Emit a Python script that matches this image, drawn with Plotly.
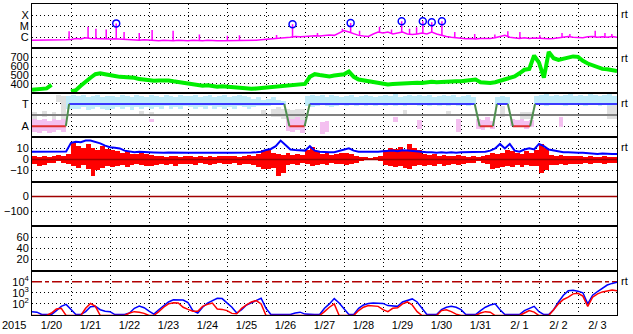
import pandas as pd
import plotly.graph_objects as go
from plotly.subplots import make_subplots

# ------------------------------------------------------------------ data
START = pd.Timestamp("2015-01-20 00:00")
END = pd.Timestamp("2015-02-04 00:00")
STEP = pd.Timedelta(hours=3)

# GOES X-ray background, units of 1e-6 W/m2 (C1 = 1), 3-hourly, one row per day
xray_bg = [
    [0.55, 0.55, 0.6, 0.55, 0.6, 0.6, 0.55, 0.6],
    [0.65, 0.8, 0.7, 0.9, 0.8, 0.75, 0.8, 0.7],
    [0.7, 0.75, 0.7, 0.6, 0.65, 0.6, 0.55, 0.6],
    [0.55, 0.5, 0.5, 0.55, 0.5, 0.5, 0.55, 0.5],
    [0.5, 0.55, 0.5, 0.5, 0.55, 0.5, 0.5, 0.5],
    [0.5, 0.5, 0.55, 0.5, 0.5, 0.5, 0.55, 0.6],
    [0.65, 0.7, 0.8, 0.8, 0.9, 1.0, 1.2, 1.1],
    [1.2, 1.3, 1.4, 1.3, 1.5, 1.6, 1.5, 2.5],
    [4, 3, 2, 1.5, 1.3, 1.2, 2, 3],
    [2.5, 3, 2, 2.5, 3, 2, 1.8, 2],
    [2.5, 2, 3, 2, 1.5, 1.2, 1.0, 0.9],
    [0.8, 0.75, 0.8, 0.7, 0.8, 0.75, 0.8, 0.9],
    [1.2, 1.5, 1.0, 0.9, 0.8, 0.9, 0.8, 0.85],
    [0.8, 0.8, 0.75, 0.8, 0.9, 1.0, 1.2, 1.0],
    [1.0, 0.9, 1.1, 1.2, 1.0, 1.1, 1.0, 1.2],
    [1.0],
]
# X-ray flare / burst peaks (same units)
flare_times = [
    "2015-01-20 22:50", "2015-01-21 10:30", "2015-01-21 15:20", "2015-01-21 21:40",
    "2015-01-22 03:50", "2015-01-22 08:40", "2015-01-22 18:00", "2015-01-23 01:55",
    "2015-01-23 14:50", "2015-01-24 07:00", "2015-01-25 00:15", "2015-01-25 07:40",
    "2015-01-26 06:30", "2015-01-26 16:20", "2015-01-27 07:40", "2015-01-27 23:00",
    "2015-01-28 04:05", "2015-01-28 09:35", "2015-01-28 21:50", "2015-01-29 05:15",
    "2015-01-29 11:30", "2015-01-29 16:20", "2015-01-29 20:40", "2015-01-30 00:30",
    "2015-01-30 06:00", "2015-01-30 12:15", "2015-01-30 20:10", "2015-01-31 08:25",
    "2015-01-31 20:50", "2015-02-01 04:50", "2015-02-01 12:15", "2015-02-02 00:30",
    "2015-02-02 14:10", "2015-02-02 19:00", "2015-02-03 10:35", "2015-02-03 16:35",
    "2015-02-03 20:50",
]
flare_peaks = [3.5, 9, 6, 5, 18, 3, 2.5, 4.5, 4, 1.8, 1.4, 1.5, 1.6, 15, 2.5, 6,
               19, 4, 9, 5, 28, 6, 8, 28, 23, 28, 3, 2, 1.8, 3.5, 3, 1.5, 2.5, 2,
               4, 2.5, 2]

# Solar wind speed km/s, 3-hourly
wind_speed = [
    [335, 340, 345, 350, 390, None, None, None],
    [315, 330, 380, 430, 470, 510, 520, 510],
    [505, 490, 480, 475, 480, 470, 455, 445],
    [440, 435, 440, 445, 440, 430, 420, 415],
    [410, 395, 385, 380, 385, 375, 370, 375],
    [370, 360, 355, 350, 355, 345, 350, 355],
    [360, 365, 375, 380, 375, 380, 385, 390],
    [400, 480, 510, 500, 490, 485, 495, 500],
    [510, 540, 480, 450, 440, 430, 420, 410],
    [400, 395, 400, 405, 400, 405, 410, 415],
    [410, 420, 425, 420, 425, 430, 425, 430],
    [430, 435, 445, 450, 420, 410, 410, 420],
    [435, 455, 470, 485, 520, 560, 570, 720],
    [640, 470, 760, 690, 670, 680, 700, 710],
    [705, 660, 630, 610, 580, 570, 565, 555],
    [545],
]

# IMF sector (T = +1, A = -1)
sector_times = ["2015-01-20 00:00", "2015-01-20 20:50", "2015-01-20 22:50",
                "2015-01-26 11:15", "2015-01-26 14:25", "2015-01-26 23:45",
                "2015-01-27 02:55", "2015-01-31 08:25", "2015-01-31 11:30",
                "2015-01-31 19:40", "2015-01-31 22:05", "2015-02-01 04:50",
                "2015-02-01 07:55", "2015-02-01 18:30", "2015-02-01 21:35",
                "2015-02-04 00:00"]
sector_vals = [-1, -1, 1, 1, -1, -1, 1, 1, -1, -1, 1, 1, -1, -1, 1, 1]

# IMF longitude spread per 3-h bin (hi, lo) - toward (cyan)
N = None
toward_band = [
    [N, N, N, N, N, N, N, (1.7, 0.6)],
    [(1.8, 0.6), (1.7, 0.6), (1.8, 0.7), (1.6, 0.5), (1.7, 0.6), (1.8, 0.7), (1.6, 0.6), (1.7, 0.5)],
    [(1.7, 0.6), (1.6, 0.7), (1.8, 0.6), (1.7, 0.7), (1.6, 0.5), (1.8, 0.7), (1.7, 0.6), (1.6, 0.7)],
    [(1.8, 0.6), (1.7, 0.7), (1.6, 0.6), (1.8, 0.8), (1.7, 0.6), (1.6, 0.7), (1.8, 0.6), (1.7, 0.8)],
    [(1.7, 0.7), (1.8, 0.6), (1.6, 0.7), (1.7, 0.6), (1.8, 0.8), (1.6, 0.6), (1.7, 0.7), (1.8, 0.6)],
    [(1.6, 0.7), (1.7, 0.6), (1.8, 0.8), (1.7, 0.7), (1.6, 0.6), (1.5, 0.7), (1.6, 0.8), (1.4, 0.8)],
    [(1.5, 0.8), (1.6, 0.9), (1.4, 0.9), (1.3, 0.9), N, N, N, N],
    [(1.7, 0.8), (1.8, 0.7), (1.7, 0.8), (1.8, 0.9), (1.6, 0.8), (1.8, 0.7), (1.7, 0.8), (1.6, 0.9)],
    [(1.7, 0.8), (1.8, 0.9), (1.6, 0.8), (1.7, 0.9), (1.8, 0.8), (1.7, 0.9), (1.6, 0.8), (1.7, 0.9)],
    [(1.8, 0.8), (1.7, 0.9), (1.9, 0.8), (1.6, 0.9), (1.7, 0.8), (1.8, 0.9), (1.7, 1.0), (1.8, 0.8)],
    [(1.7, 0.9), (1.8, 0.8), (1.6, 0.9), (1.7, 0.8), (1.8, 0.9), (1.7, 0.8), (1.8, 0.9), (1.6, 0.8)],
    [(1.7, 0.9), (1.8, 0.8), (1.6, 0.9), N, N, N, N, (1.6, 0.9)],
    [(1.7, 0.9), (1.6, 1.0), N, N, N, N, N, (1.7, 0.9)],
    [(1.8, 0.9), (1.9, 0.8), (1.7, 0.9), (1.8, 0.9), (1.7, 1.0), (1.8, 0.8), (1.9, 0.9), (1.7, 0.9)],
    [(1.8, 0.9), (1.7, 0.8), (1.9, 0.9), (1.8, 0.9), (1.7, 0.8), (1.8, 0.9), (1.9, 0.8), (1.7, 0.9)],
]
# away (pink): bin index -> (hi, lo)
away_bins = [0, 1, 2, 3, 4, 5, 6, 24, 52, 53, 54, 55, 59, 60, 74, 79, 87,
             91, 92, 93, 94, 98, 99, 100, 101, 102, 108]
away_hi = [-0.3, -0.4, -0.3, -0.5, -0.3, -0.4, -0.3, -0.3, -0.2, -0.3, -0.2, -0.4,
           -0.6, -0.5, -0.2, -0.4, -0.3, -0.3, -0.4, -0.2, -0.5, -0.3, -0.4, -0.3,
           -0.5, -0.4, -0.2]
away_lo = [-1.5, -1.6, -1.4, -1.6, -1.5, -1.3, -1.5, -0.6, -1.4, -1.5, -1.3, -1.6,
           -1.7, -1.5, -0.6, -1.2, -1.5, -1.2, -1.3, -1.1, -1.2, -1.0, -1.1, -1.0,
           -1.2, -1.1, -1.1]
# undetermined (gray)
other_bins = [0, 2, 4, 5, 6, 22, 24, 47, 49, 50, 51, 52, 53, 54, 55,
              76, 85, 96, 100, 101, 102, 118, 119]
other_hi = [0.3, 0.4, 0.3, 1.8, 1.7, 0.4, 0.3, 0.5, 0.6, 0.7, 0.6,
            0.6, 0.5, 0.6, 0.6, 0.5, 0.4, 0.8, 0.3, 0.3, 0.3, 1.5, 1.5]
other_lo = [-0.3, -0.2, -0.4, 1.2, -0.4, 0.0, -0.1, 0.0, -0.2, -0.2, -0.3,
            -0.4, -0.3, -0.4, -0.4, 0.0, 0.0, -0.2, -0.3, -0.3, -0.3, -0.3, -0.3]

# IMF |B| (nT), 3-hourly
imf_bt = [
    [7, 7, 6.8, 7, 7, 6.8, 7, 7.2],
    [15, 16, 15.5, 17, 17, 16, 14.5, 12.5],
    [11, 10.5, 10, 8, 7, 6.5, 7, 6.5],
    [6.5, 6.3, 6, 6, 6.2, 6, 6, 6],
    [6, 6, 5.8, 6, 6, 6, 5.8, 6],
    [6, 6, 6, 5.8, 6, 6.2, 6.5, 7],
    [8.5, 9.5, 12, 17, 13, 9, 8.5, 8.5],
    [8, 12, 8, 7, 6.5, 6.5, 6.5, 7.5],
    [9, 10, 8, 7, 7, 6.8, 7, 7],
    [7.5, 8, 8, 7.5, 8.4, 8, 7.5, 7],
    [6.5, 6.5, 6.5, 6, 6.5, 6, 6.5, 6],
    [6.5, 6.5, 7, 7, 6.5, 7, 8, 10],
    [14, 10, 14, 8, 7, 9, 10, 9],
    [14, 12, 9, 8, 7, 6.5, 6.5, 6],
    [6, 6, 5.5, 5.5, 5, 5.5, 5, 5],
    [5],
]
# IMF Bz range per 3-h bin (max, min), nT
imf_bz = [
    [(3, -4), (2, -6), (3, -5), (2, -3), (3, -3), (4, -2), (3, -3), (5, -4)],
    [(15, -6), (12, -8), (10, -5), (14, -9), (10, -15), (8, -10), (12, -8), (9, -6)],
    [(8, -7), (7, -6), (6, -5), (7, -7), (5, -5), (5, -4), (6, -5), (5, -6)],
    [(4, -6), (3, -5), (3, -4), (2, -5), (3, -4), (3, -6), (2, -4), (3, -4)],
    [(3, -4), (2, -5), (3, -3), (2, -4), (3, -5), (2, -4), (3, -3), (3, -4)],
    [(3, -4), (3, -3), (2, -5), (3, -4), (4, -4), (3, -5), (5, -7), (8, -9)],
    [(8, -9), (6, -8), (5, -15), (4, -12), (6, -5), (4, -4), (5, -5), (4, -3)],
    [(8, -4), (11, -6), (7, -5), (5, -4), (6, -5), (4, -3), (5, -4), (6, -4)],
    [(6, -5), (5, -4), (3, -3), (2, -2), (2, 0), (1.5, -0.5), (2, -1), (3, -2)],
    [(8, -5), (10, -6), (9, -7), (11, -6), (8, -8), (14, -9), (10, -6), (8, -5)],
    [(5, -6), (4, -5), (5, -6), (3, -4), (4, -6), (3, -5), (3, -4), (4, -5)],
    [(3, -4), (2, -3), (3, -3), (2, -2), (3, -3), (4, -4), (6, -9), (5, -8)],
    [(6, -7), (8, -6), (7, -7), (6, -5), (5, -7), (7, -5), (6, -6), (8, -6)],
    [(14, -12), (10, -10), (4, -5), (3, -5), (4, -4), (3, -5), (3, -4), (3, -4)],
    [(3, -4), (2, -3), (3, -4), (2, -3), (2, -3), (3, -4), (2, -3), (2, -3)],
]

# GOES >2 MeV electron flux, two satellites, 3-hourly (values < 10 are off scale)
elec_a = [
    [20, 18, 11, 11, 11, 25, 60, 90],
    [30, 11, 11, 20, 55, 60, 30, 22],
    [20, 11, 11, 11, 15, 40, 65, 45],
    [22, 12, 30, 70, 150, 230, 230, 220],
    [130, 25, 15, 50, 120, 200, 320, 300],
    [130, 50, 15, 30, 80, 130, 220, 320],
    [40, 11, 11, 11, 11, 11, 15, 18],
    [12, 11, 11, 11, 40, 100, 300, 120],
    [40, 11, 11, 40, 80, 110, 120, 120],
    [110, 70, 60, 60, 150, 220, 280, 150],
    [40, 11, 11, 11, 30, 50, 60, 50],
    [30, 11, 11, 11, 25, 50, 80, 100],
    [30, 11, 11, 11, 11, 25, 40, 60],
    [20, 11, 11, 30, 150, 600, 1500, 1700],
    [1400, 1000, 100, 600, 1300, 2500, 5000, 7000],
    [9000],
]
elec_b = [
    [9, 9, 9, 9, 15, 35, 40, 9],
    [9, 9, 9, 40, 110, 60, 9, 9],
    [9, 9, 9, 9, 15, 20, 18, 14],
    [9, 9, 20, 50, 100, 125, 120, 50],
    [32, 22, 22, 60, 90, 120, 35, 32],
    [25, 14, 13, 40, 80, 150, 200, 100],
    [9, 9, 9, 9, 9, 9, 9, 9],
    [9, 9, 9, 9, 20, 50, 100, 9],
    [9, 9, 9, 25, 50, 70, 70, 60],
    [30, 20, 40, 45, 100, 150, 80, 20],
    [9, 9, 9, 9, 25, 30, 20, 12],
    [9, 9, 9, 9, 15, 20, 18, 9],
    [9, 9, 9, 9, 9, 15, 25, 18],
    [9, 9, 9, 30, 100, 250, 400, 800],
    [900, 500, 60, 400, 800, 1200, 1500, 1800],
    [1500],
]

# reference levels
M_CLASS = 10        # M1 in C units
SECTOR_MID = 0
BZ_ZERO = 0
DST_ZERO = 0
E_ALERT = 1e4

# tick labels
xray_ticks, xray_text = [100, 10, 1], ["X", "M", "C"]
sw_ticks = [700, 600, 500, 400]
sector_ticks, sector_text = [1, -1], ["T", "A"]
bz_ticks = [10, 0, -10]
dst_ticks = [0, -100]
kp_ticks = [60, 40, 20]
el_ticks = [1e4, 1e3, 1e2]
el_text = ["10<sup>4</sup>", "10<sup>3</sup>", "10<sup>2</sup>"]


# ------------------------------------------------------------------ helpers
def flat(rows):
    return [v for r in rows for v in r]


def times(n):
    return [START + STEP * i for i in range(n)]


def centers(n):
    return [START + STEP * (i + 0.5) for i in range(n)]


BAR_W = STEP.total_seconds() * 1000

fig = make_subplots(rows=7, cols=1, shared_xaxes=True, vertical_spacing=0)

# ---- panel 1: X-ray
xb = flat(xray_bg)
tx = times(len(xb))
fig.add_trace(go.Scatter(x=tx, y=xb, mode="lines",
                         line=dict(color="#ff00ff", width=1.5)), row=1, col=1)
sx, sy = [], []
for t, p in zip(flare_times, flare_peaks):
    t = pd.Timestamp(t)
    idx = int(round((t - START) / STEP))
    sx += [t, t, None]
    sy += [xb[idx], p, None]
fig.add_trace(go.Scatter(x=sx, y=sy, mode="lines",
                         line=dict(color="#ff00ff", width=1.5)), row=1, col=1)
mx = [t for t, p in zip(flare_times, flare_peaks) if p >= M_CLASS]
my = [p for p in flare_peaks if p >= M_CLASS]
fig.add_trace(go.Scatter(x=mx, y=my, mode="markers",
                         marker=dict(symbol="circle-open", size=7, color="#0000ff",
                                     line=dict(width=1.5))), row=1, col=1)

# ---- panel 2: solar wind speed
vs = flat(wind_speed)
fig.add_trace(go.Scatter(x=times(len(vs)), y=vs, mode="lines",
                         line=dict(color="#00ee00", width=4)), row=2, col=1)

# ---- panel 3: sector
nb = len(toward_band) * 8
cx = centers(nb)
tb = flat(toward_band)
fig.add_trace(go.Bar(x=[cx[i] for i in other_bins],
                     y=[h - l for h, l in zip(other_hi, other_lo)], base=other_lo,
                     width=BAR_W, marker=dict(color="#e0e0e0", line=dict(width=0))),
              row=3, col=1)
fig.add_trace(go.Bar(x=[cx[i] for i in away_bins],
                     y=[h - l for h, l in zip(away_hi, away_lo)], base=away_lo,
                     width=BAR_W, marker=dict(color="#f4c0f0", line=dict(width=0))),
              row=3, col=1)
fig.add_trace(go.Bar(x=cx, y=[(p[0] - p[1]) if p else None for p in tb],
                     base=[p[1] if p else None for p in tb],
                     width=BAR_W, marker=dict(color="#c0ecfa", line=dict(width=0))),
              row=3, col=1)
fig.add_trace(go.Scatter(x=[START, END], y=[SECTOR_MID, SECTOR_MID], mode="lines",
                         line=dict(color="#808080", width=2)), row=3, col=1)
segs = {"#3a3aff": ([], []), "#e03030": ([], []), "#4f8f4f": ([], [])}
for k in range(len(sector_times) - 1):
    a, b = sector_vals[k], sector_vals[k + 1]
    key = "#3a3aff" if a == b == 1 else ("#e03030" if a == b == -1 else "#4f8f4f")
    segs[key][0].extend([sector_times[k], sector_times[k + 1], None])
    segs[key][1].extend([a, b, None])
for col, (xs, ys) in segs.items():
    fig.add_trace(go.Scatter(x=xs, y=ys, mode="lines",
                             line=dict(color=col, width=2)), row=3, col=1)

# ---- panel 4: IMF
bz = flat(imf_bz)
fig.add_trace(go.Bar(x=centers(len(bz)), y=[h - l for h, l in bz],
                     base=[l for h, l in bz], width=BAR_W,
                     marker=dict(color="#ff0000", line=dict(width=0))), row=4, col=1)
fig.add_trace(go.Scatter(x=[START, END], y=[BZ_ZERO, BZ_ZERO], mode="lines",
                         line=dict(color="#a00000", width=1.5)), row=4, col=1)
bt = flat(imf_bt)
fig.add_trace(go.Scatter(x=times(len(bt)), y=bt, mode="lines",
                         line=dict(color="#0000ff", width=2)), row=4, col=1)

# ---- panel 5: Dst (no data)
fig.add_trace(go.Scatter(x=[START, END], y=[DST_ZERO, DST_ZERO], mode="lines",
                         line=dict(color="#a00000", width=1.5)), row=5, col=1)

# ---- panel 6: Kp/AE (no data) - empty trace so the axis is drawn
fig.add_trace(go.Scatter(x=[START], y=[None], mode="lines"), row=6, col=1)

# ---- panel 7: electrons
fig.add_trace(go.Scatter(x=[START, END], y=[E_ALERT, E_ALERT], mode="lines",
                         line=dict(color="white", width=2)), row=7, col=1)
fig.add_trace(go.Scatter(x=[START, END], y=[E_ALERT, E_ALERT], mode="lines",
                         line=dict(color="#b00000", width=1.5,
                                   dash="10px,3px,4px,3px")), row=7, col=1)
ea = flat(elec_a)
eb = flat(elec_b)
fig.add_trace(go.Scatter(x=times(len(ea)), y=ea, mode="lines",
                         line=dict(color="#0000ff", width=1.5)), row=7, col=1)
fig.add_trace(go.Scatter(x=times(len(eb)), y=eb, mode="lines",
                         line=dict(color="#ff0000", width=1.5)), row=7, col=1)

# ------------------------------------------------------------------ axes
FONT = dict(family="Liberation Sans, Arial, sans-serif", size=11, color="black")
GRID = dict(showgrid=True, gridcolor="black", gridwidth=1, griddash="1px,3px")

fig.update_xaxes(range=[START, END], tick0=START, dtick=86400000, ticks="",
                 showline=True, linecolor="black", linewidth=1, mirror=True,
                 zeroline=False, showticklabels=False, **GRID)
fig.update_xaxes(showticklabels=True, ticklabelmode="period", tickformat="%-m/%e",
                 tickfont=FONT, row=7, col=1)
fig.update_yaxes(showline=True, linecolor="black", linewidth=1, mirror=True,
                 zeroline=False, ticks="", tickfont=FONT, tickmode="array", **GRID)

fig.update_yaxes(type="log", range=[-1, 3], tickvals=xray_ticks, ticktext=xray_text,
                 row=1, col=1)
fig.update_yaxes(range=[300, 800], tickvals=sw_ticks, row=2, col=1)
fig.update_yaxes(range=[-2, 2], tickvals=sector_ticks, ticktext=sector_text,
                 row=3, col=1)
fig.update_yaxes(range=[-20, 20], tickvals=bz_ticks, row=4, col=1)
fig.update_yaxes(range=[-200, 100], tickvals=dst_ticks, row=5, col=1)
fig.update_yaxes(range=[0, 80], tickvals=kp_ticks, row=6, col=1)
fig.update_yaxes(type="log", range=[1, 5], tickvals=el_ticks, ticktext=el_text,
                 row=7, col=1)

# ------------------------------------------------------------------ annotations
ann = [dict(text="2015", x=0, y=0, xref="paper", yref="paper", xanchor="right",
            yanchor="top", xshift=-4, yshift=-2, showarrow=False, font=FONT)]
for r in (1, 2, 3, 4, 7):
    ann.append(dict(text="rt", x=1, y=1 - (r - 1) / 7, xref="paper", yref="paper",
                    xanchor="left", yanchor="top", xshift=2, yshift=-2,
                    showarrow=False, font=FONT))

fig.update_layout(width=633, height=334, margin=dict(l=32, r=16, t=3, b=17),
                  paper_bgcolor="white", plot_bgcolor="white", showlegend=False,
                  barmode="overlay", bargap=0, annotations=ann, font=FONT)

fig.write_html("out.html")
